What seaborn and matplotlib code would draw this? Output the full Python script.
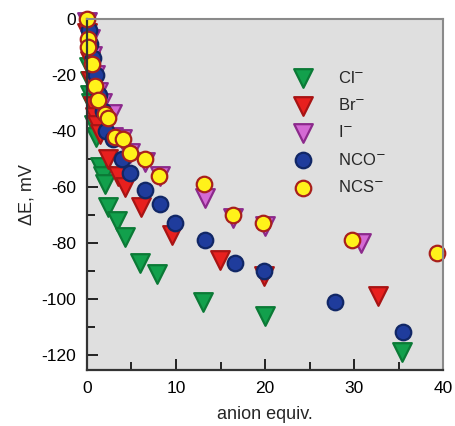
import numpy as np
import pandas as pd
import seaborn as sns
import matplotlib.pyplot as plt
from matplotlib.ticker import MultipleLocator

sns.set_theme(style="white")
plt.rcParams['font.family'] = ['Liberation Sans', 'DejaVu Sans']
plt.rcParams['axes.unicode_minus'] = False

# Cl- titration
cl_x = [0.2, 0.3, 0.4, 0.5, 0.8, 1.0, 1.5, 1.8, 2.0, 2.4, 3.4, 4.3, 6.0, 7.9, 13.0, 20.0, 35.4]
cl_y = [-17, -22, -27, -30, -38, -42, -53, -56, -59, -67, -72, -78, -87, -91, -101, -106, -119]

# Br-
br_x = [0.0, 0.3, 0.5, 0.7, 0.9, 1.1, 1.5, 2.4, 3.5, 4.3, 6.1, 9.6, 14.9, 19.9, 32.7]
br_y = [-5, -15, -22, -31, -35, -38, -41, -50, -56, -60, -67, -77, -86, -92, -99]

# I-
i_x = [0.0, 0.3, 0.6, 0.9, 1.3, 1.7, 2.8, 2.9, 3.9, 4.8, 6.5, 8.2, 13.3, 16.4, 20.0, 30.8]
i_y = [-1, -7, -13, -20, -26, -30, -34, -42, -43, -48, -51, -56, -64, -71, -74, -80]

# NCO-
nco_x = [0.2, 0.4, 0.7, 1.0, 1.4, 1.8, 2.2, 2.9, 3.9, 4.8, 6.5, 8.2, 9.9, 13.3, 16.6, 19.9, 27.8, 35.5]
nco_y = [-4, -9, -14, -20, -27, -33, -40, -43, -50, -55, -61, -66, -73, -79, -87, -90, -101, -112]

# NCS-
ncs_x = [0.0, 0.1, 0.15, 0.6, 0.9, 1.2, 2.0, 2.4, 3.1, 4.0, 4.8, 6.5, 8.1, 13.2, 16.4, 19.8, 29.8, 39.3]
ncs_y = [0, -7, -10, -16, -24, -29, -34, -35.5, -42, -43, -48, -50, -56, -59, -70, -73, -79, -83.6]

series = [
    ("Cl$^{-}$", cl_x, cl_y, "v", "#12a04c", "#0b7a36", 180),
    ("Br$^{-}$", br_x, br_y, "v", "#e8201e", "#a81414", 180),
    ("I$^{-}$", i_x, i_y, "v", "#d46ad4", "#8c2a8c", 180),
    ("NCO$^{-}$", nco_x, nco_y, "o", "#1f3c9c", "#112766", 125),
    ("NCS$^{-}$", ncs_x, ncs_y, "o", "#fff21a", "#a8201c", 125),
]

fig = plt.figure(figsize=(4.55, 4.26), dpi=100)
ax = fig.add_axes([0.191, 0.131, 0.783, 0.824])
ax.set_facecolor("#dfdfdf")

for name, xs, ys, mk, fc, ec, s in series:
    df = pd.DataFrame({"x": xs, "y": ys})
    sns.scatterplot(data=df, x="x", y="y", marker=mk, s=s, color=fc,
                    edgecolor=ec, linewidth=1.6, label=name, ax=ax,
                    clip_on=False)

ax.set_xlim(0, 40)
ax.set_ylim(-125.5, 0)
ax.xaxis.set_major_locator(MultipleLocator(10))
ax.xaxis.set_minor_locator(MultipleLocator(5))
ax.yaxis.set_major_locator(MultipleLocator(20))
ax.yaxis.set_minor_locator(MultipleLocator(10))
ax.tick_params(which="both", direction="in", bottom=True, left=True,
               top=False, right=False, colors="#222222", labelcolor="black",
               labelsize=12.5, width=1.4)
ax.tick_params(which="major", length=8, pad=8)
ax.tick_params(which="minor", length=6)

for side in ["left", "bottom"]:
    ax.spines[side].set_color("#333333")
    ax.spines[side].set_linewidth(1.6)
for side in ["top", "right"]:
    ax.spines[side].set_color("#8a8a8a")
    ax.spines[side].set_linewidth(1.5)

ax.set_xlabel("anion equiv.", fontsize=13, labelpad=7)
ax.set_ylabel("ΔE, mV", fontsize=13, labelpad=4)

leg = ax.legend(loc="upper left", bbox_to_anchor=(0.54, 0.875), frameon=False,
                fontsize=12, handletextpad=1.1, labelspacing=0.68,
                borderaxespad=0)

fig.savefig("out.png", dpi=100)
